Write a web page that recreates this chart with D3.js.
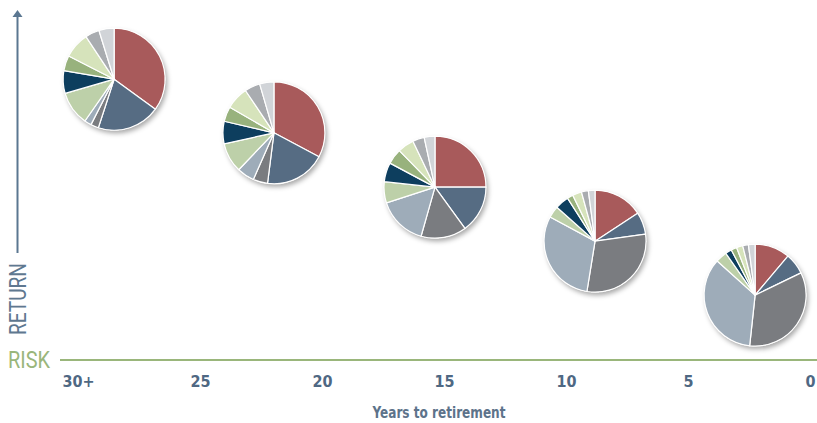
<!DOCTYPE html>
<html>
<head>
<meta charset="utf-8">
<script src="https://cdn.jsdelivr.net/npm/d3@7"></script>
<style>
  body { margin: 0; background: #fff; }
  svg { display: block; }
</style>
</head>
<body>
<svg width="817" height="423"></svg>
<script>

// tick labels on the bottom axis (years to retirement)
var yearTicks = [30, 25, 20, 15, 10, 5, 0];
var yearLabels = ["30+", "25", "20", "15", "10", "5", "0"];

// where each portfolio sits: years to retirement and relative return level
var stageYears = [28.52, 21.97, 15.37, 8.81, 2.25];
var stageReturn = [8.0, 6.45, 4.88, 3.32, 1.76];

// slice colours, clockwise from 12 o'clock
var sliceColors = ["#a85a5b", "#566c83", "#7a7c80", "#9eacb9", "#bdd0a9",
                   "#0d3e5e", "#98b27d", "#d6e3bb", "#a9acb0", "#d1d4d8"];

// asset mix (%) of each portfolio, same order as the colours
var mix30 = [35, 20, 2.5, 2.2, 10.8, 7.2, 4.8, 8.2, 4.5, 4.8];
var mix22 = [32.7, 19.2, 4.6, 5.5, 9.4, 7.1, 4.7, 7.2, 4.9, 4.5];
var mix15 = [25, 15, 14.4, 15.6, 6.7, 6.1, 4.9, 5.2, 3.7, 3.4];
var mix9 = [15.8, 7.1, 29.8, 30.4, 3.7, 4.4, 1.9, 2.9, 2.2, 2.1];
var mix2 = [11.1, 6.7, 33.8, 34.9, 3.6, 2, 1.8, 2, 1.8, 2.1];

var mixes = [mix30, mix22, mix15, mix9, mix2];

var condensed = "'Liberation Sans Narrow', 'DejaVu Sans Condensed', 'Arial Narrow', sans-serif";
var light = "Roboto, 'Open Sans', sans-serif";

var svg = d3.select("svg"),
    w = 817,
    h = 423;

// scales
var x_scale = d3.scaleLinear()
  .domain([30, 0])
  .range([78, 810]);

var y_scale = d3.scaleLinear()
  .domain([0, 10])
  .range([356, 10]);

var radius = 51;

// drop shadow for the pies
var defs = svg.append("defs");
var f = defs.append("filter")
  .attr("id", "shadow")
  .attr("x", "-30%").attr("y", "-30%")
  .attr("width", "160%").attr("height", "160%");
f.append("feDropShadow")
  .attr("dx", 2)
  .attr("dy", 3)
  .attr("stdDeviation", 2.5)
  .attr("flood-color", "#000")
  .attr("flood-opacity", 0.35);

// return arrow on the left
svg.append("line")
  .attr("x1", 17.5).attr("x2", 17.5)
  .attr("y1", 15).attr("y2", 253)
  .attr("stroke", "#5b7791")
  .attr("stroke-width", 2);

svg.append("path")
  .attr("d", "M12.5,17 L17.5,10 L22.5,17 Z")
  .attr("fill", "#5b7791");

svg.append("text")
  .attr("transform", "translate(26,335) rotate(-90)")
  .attr("fill", "#5f7890")
  .style("font-family", light)
  .style("font-weight", 400)
  .style("font-size", "24px")
  .attr("textLength", 72)
  .attr("lengthAdjust", "spacingAndGlyphs")
  .text("RETURN");

svg.append("text")
  .attr("x", 8)
  .attr("y", 368)
  .attr("fill", "#9ab67b")
  .style("font-family", light)
  .style("font-weight", 400)
  .style("font-size", "24px")
  .attr("textLength", 42)
  .attr("lengthAdjust", "spacingAndGlyphs")
  .text("RISK");

// risk axis line
svg.append("line")
  .attr("x1", 60).attr("x2", w)
  .attr("y1", 360).attr("y2", 360)
  .attr("stroke", "#9ab67b")
  .attr("stroke-width", 2.2);

// bottom axis with year labels
var xAxis = d3.axisBottom(x_scale)
  .tickValues(yearTicks)
  .tickSize(0)
  .tickPadding(0)
  .tickFormat(function(d, i) { return yearLabels[i]; });

var gX = svg.append("g")
  .attr("transform", "translate(0,376)")
  .call(xAxis);

gX.select(".domain").remove();
gX.selectAll("text")
  .attr("fill", "#4f6883")
  .attr("dy", "0.71em")
  .style("font-family", condensed)
  .style("font-size", "16px")
  .style("font-weight", "bold");

// axis title
svg.append("text")
  .attr("x", 439)
  .attr("y", 418)
  .attr("text-anchor", "middle")
  .attr("fill", "#5d738a")
  .style("font-family", condensed)
  .style("font-size", "15px")
  .style("font-weight", "bold")
  .attr("textLength", 133)
  .attr("lengthAdjust", "spacingAndGlyphs")
  .text("Years to retirement");

// the pies
var pie = d3.pie()
  .sort(null)
  .value(function(d) { return d; });

var arc = d3.arc()
  .innerRadius(0)
  .outerRadius(radius);

mixes.forEach(function(mix, k) {
  var g = svg.append("g")
    .attr("transform", "translate(" + x_scale(stageYears[k]) + "," + y_scale(stageReturn[k]) + ")");

  g.append("circle")
    .attr("r", radius)
    .attr("fill", "#fff")
    .attr("filter", "url(#shadow)");

  g.selectAll("path")
    .data(pie(mix))
    .enter()
    .append("path")
    .attr("d", arc)
    .attr("fill", function(d, i) { return sliceColors[i]; })
    .attr("stroke", "#fff")
    .attr("stroke-width", 1.2)
    .attr("stroke-linejoin", "round");
});

</script>
</body>
</html>
